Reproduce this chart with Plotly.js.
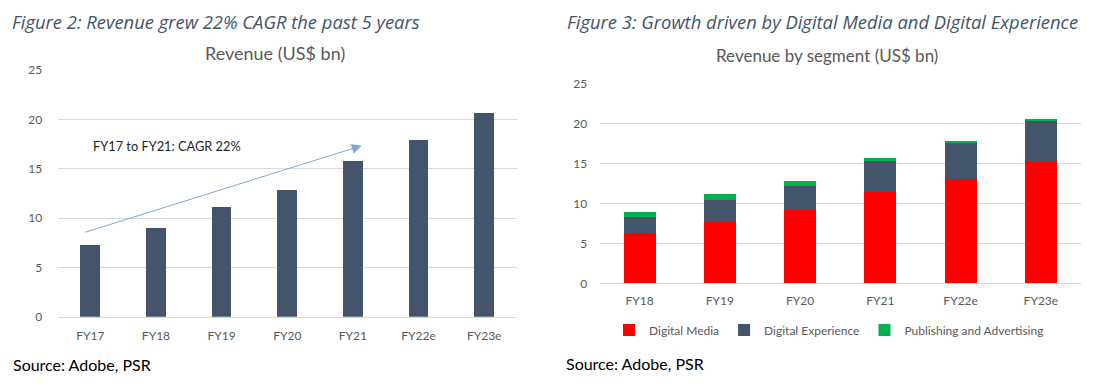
<!DOCTYPE html>
<html>
<head>
<meta charset="utf-8">
<script src="https://cdn.plot.ly/plotly-3.0.1.min.js"></script>
<style>
html,body{margin:0;padding:0;background:#fff;}
#chart{width:1117px;height:388px;}
</style>
</head>
<body>
<div id="chart"></div>
<script>
// ---- Data ----
const revYears = ["FY17", "FY18", "FY19", "FY20", "FY21", "FY22e", "FY23e"];
const revenue = [7.23, 9.03, 11.15, 12.88, 15.78, 17.91, 20.65];

const segYears = ["FY18", "FY19", "FY20", "FY21", "FY22e", "FY23e"];
const digitalMedia = [6.33, 7.70, 9.25, 11.45, 13.12, 15.20];
const digitalExperience = [2.00, 2.71, 3.00, 3.84, 4.42, 5.13];
const publishingAdvertising = [0.58, 0.75, 0.58, 0.46, 0.29, 0.25];

const yTicks = [0, 5, 10, 15, 20, 25];

// ---- Helpers ----
const W = 1117, H = 388;
const px = x => x / W;
const py = y => 1 - y / H;
const FONT = "Lato, 'Open Sans', sans-serif";
const TFONT = "'Open Sans', Lato, sans-serif";
const GRID = "#d9d9d9";
const TICKC = "#595959";

const traces = [
  {type: "bar", x: revYears, y: revenue, xaxis: "x", yaxis: "y", width: 0.3,
   marker: {color: "#44546a"}, showlegend: false, name: "Revenue"},
  {type: "bar", x: segYears, y: digitalMedia, xaxis: "x2", yaxis: "y2", width: 0.4,
   marker: {color: "#ff0000"}, name: "Digital Media"},
  {type: "bar", x: segYears, y: digitalExperience, xaxis: "x2", yaxis: "y2", width: 0.4,
   marker: {color: "#44546a"}, name: "Digital Experience"},
  {type: "bar", x: segYears, y: publishingAdvertising, xaxis: "x2", yaxis: "y2", width: 0.4,
   marker: {color: "#00b050"}, name: "Publishing and Advertising"}
];

const yCommon = {
  range: [0, 25], tickvals: yTicks, showgrid: true, gridcolor: GRID, gridwidth: 1,
  zeroline: false, showline: false, ticks: "outside", tickcolor: "rgba(0,0,0,0)",
  tickfont: {family: FONT, size: 12, color: TICKC}, fixedrange: true
};
const xCommon = {
  type: "category", showgrid: false, zeroline: false, showline: true, linecolor: GRID, linewidth: 1,
  ticks: "outside", tickcolor: "rgba(0,0,0,0)", tickfont: {family: FONT, size: 12, color: TICKC},
  fixedrange: true
};

const layout = {
  width: W, height: H,
  margin: {l: 0, r: 0, t: 0, b: 0},
  paper_bgcolor: "#ffffff", plot_bgcolor: "#ffffff",
  barmode: "stack",
  font: {family: FONT},
  xaxis: Object.assign({}, xCommon, {domain: [px(57.5), px(517)], anchor: "y", ticklen: 8}),
  yaxis: Object.assign({}, yCommon, {domain: [py(316.7), py(70)], anchor: "x", ticklen: 12}),
  xaxis2: Object.assign({}, xCommon, {domain: [px(599.5), px(1081)], anchor: "y2", ticklen: 6}),
  yaxis2: Object.assign({}, yCommon, {domain: [py(283.3), py(84)], anchor: "x2", ticklen: 9}),
  showlegend: true,
  legend: {
    orientation: "h", traceorder: "normal", x: px(609), xanchor: "left", y: py(330), yanchor: "middle",
    font: {family: FONT, size: 12, color: TICKC}, itemwidth: 30, tracegroupgap: 0,
    bgcolor: "rgba(0,0,0,0)"
  },
  annotations: [
    {xref: "paper", yref: "paper", x: px(10), y: py(21), xanchor: "left", yanchor: "middle",
     text: "<i>Figure 2: Revenue grew 22% CAGR the past 5 years</i>", showarrow: false,
     font: {family: TFONT, size: 18.4, color: "#44546a"}},
    {xref: "paper", yref: "paper", x: px(565), y: py(21), xanchor: "left", yanchor: "middle",
     text: "<i>Figure 3: Growth driven by Digital Media and Digital Experience</i>", showarrow: false,
     font: {family: TFONT, size: 18.4, color: "#44546a"}},
    {xref: "paper", yref: "paper", x: px(275), y: py(53), xanchor: "center", yanchor: "middle",
     text: "Revenue (US$ bn)", showarrow: false,
     font: {family: FONT, size: 18, color: TICKC}},
    {xref: "paper", yref: "paper", x: px(827), y: py(56), xanchor: "center", yanchor: "middle",
     text: "Revenue by segment (US$ bn)", showarrow: false,
     font: {family: FONT, size: 17, color: TICKC}},
    {xref: "paper", yref: "paper", x: px(11), y: py(364), xanchor: "left", yanchor: "middle",
     text: "Source: Adobe, PSR", showarrow: false,
     font: {family: FONT, size: 16, color: "#000000"}},
    {xref: "paper", yref: "paper", x: px(564), y: py(363), xanchor: "left", yanchor: "middle",
     text: "Source: Adobe, PSR", showarrow: false,
     font: {family: FONT, size: 16, color: "#000000"}},
    {xref: "x", yref: "y", x: 0.01, y: 17.3, xanchor: "left", yanchor: "middle",
     text: "FY17 to FY21: CAGR 22%", showarrow: false,
     font: {family: FONT, size: 12.8, color: "#262626"}},
    {xref: "x", yref: "y", axref: "x", ayref: "y",
     x: 4.134, y: 17.33, ax: -0.099, ay: 8.51, text: "", showarrow: true,
     arrowhead: 2, arrowsize: 2, arrowwidth: 1, arrowcolor: "#7ea9d8"}
  ]
};

Plotly.newPlot("chart", traces, layout, {displayModeBar: false, staticPlot: true});
</script>
</body>
</html>
